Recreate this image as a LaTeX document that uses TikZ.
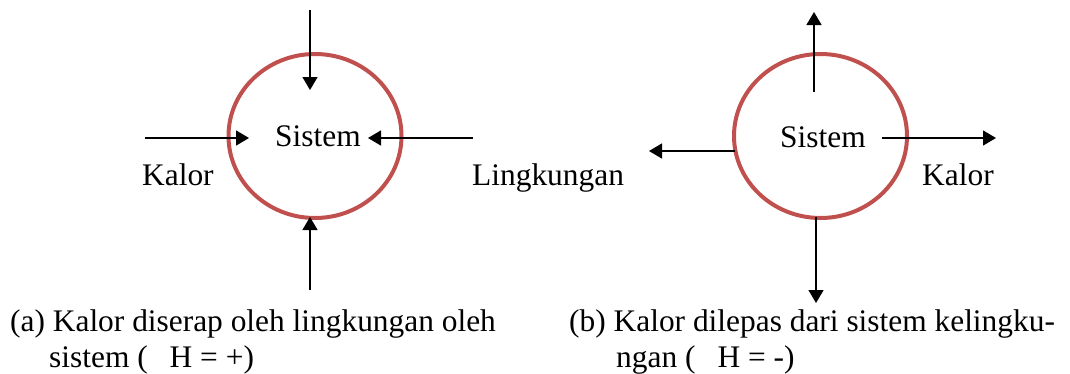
\documentclass[tikz,border=0pt]{standalone}
\usepackage{fontspec}
\setmainfont{Liberation Serif}
\usetikzlibrary{arrows.meta,shapes.geometric}
\definecolor{ringred}{RGB}{192,80,77}

\begin{document}
\begin{tikzpicture}[x=1pt,y=-1pt,
  ring/.style={draw=ringred, line width=4pt, ellipse, minimum width=173pt,
    minimum height=164pt, inner sep=0pt},
  flow/.style={line width=1.3pt, -{Triangle[length=13pt,width=15pt]}},
  txt/.style={anchor=base west, inner sep=0pt, font=\fontsize{31.4}{37}\selectfont}]
\useasboundingbox (0,0) rectangle (1070,373);

% (a) heat flows into the system
\node[ring] (sysA) at (315,136) {};
\node[txt] (sisA) at (275,146) {Sistem};
\node[txt] (kalA) at (142,185) {Kalor};
\node[txt] (ling) at (472,185) {Lingkungan};
\coordinate (aTs) at (310,10);  \coordinate (aTe) at (310,90);
\coordinate (aLs) at (145,138); \coordinate (aLe) at (249,138);
\coordinate (aRs) at (473,138); \coordinate (aRe) at (368,138);
\coordinate (aBs) at (310,290); \coordinate (aBe) at (310,217);
\draw[flow] (aTs) -- (aTe);
\draw[flow] (aLs) -- (aLe);
\draw[flow] (aRs) -- (aRe);
\draw[flow] (aBs) -- (aBe);

% (b) heat flows out of the system
\node[ring] (sysB) at (820.5,136) {};
\node[txt] (sisB) at (780,147) {Sistem};
\node[txt] (kalB) at (922,185) {Kalor};
\coordinate (bTs) at (814,92);  \coordinate (bTe) at (814,12);
\coordinate (bLs) at (735,151); \coordinate (bLe) at (649,151);
\coordinate (bRs) at (882,138); \coordinate (bRe) at (996,138);
\coordinate (bBs) at (816,217); \coordinate (bBe) at (816,303);
\draw[flow] (bTs) -- (bTe);
\draw[flow] (bLs) -- (bLe);
\draw[flow] (bRs) -- (bRe);
\draw[flow] (bBs) -- (bBe);

% captions
\node[txt] (capA1) at (10,331) {(a) Kalor diserap oleh lingkungan oleh};
\node[txt] (capA2) at (49,367) {sistem (\hspace{0.7em}H = +)};
\node[txt] (capB1) at (569,331) {(b) Kalor dilepas dari sistem kelingku-};
\node[txt] (capB2) at (616,367) {ngan (\hspace{0.7em}H = -)};
\end{tikzpicture}
\end{document}
